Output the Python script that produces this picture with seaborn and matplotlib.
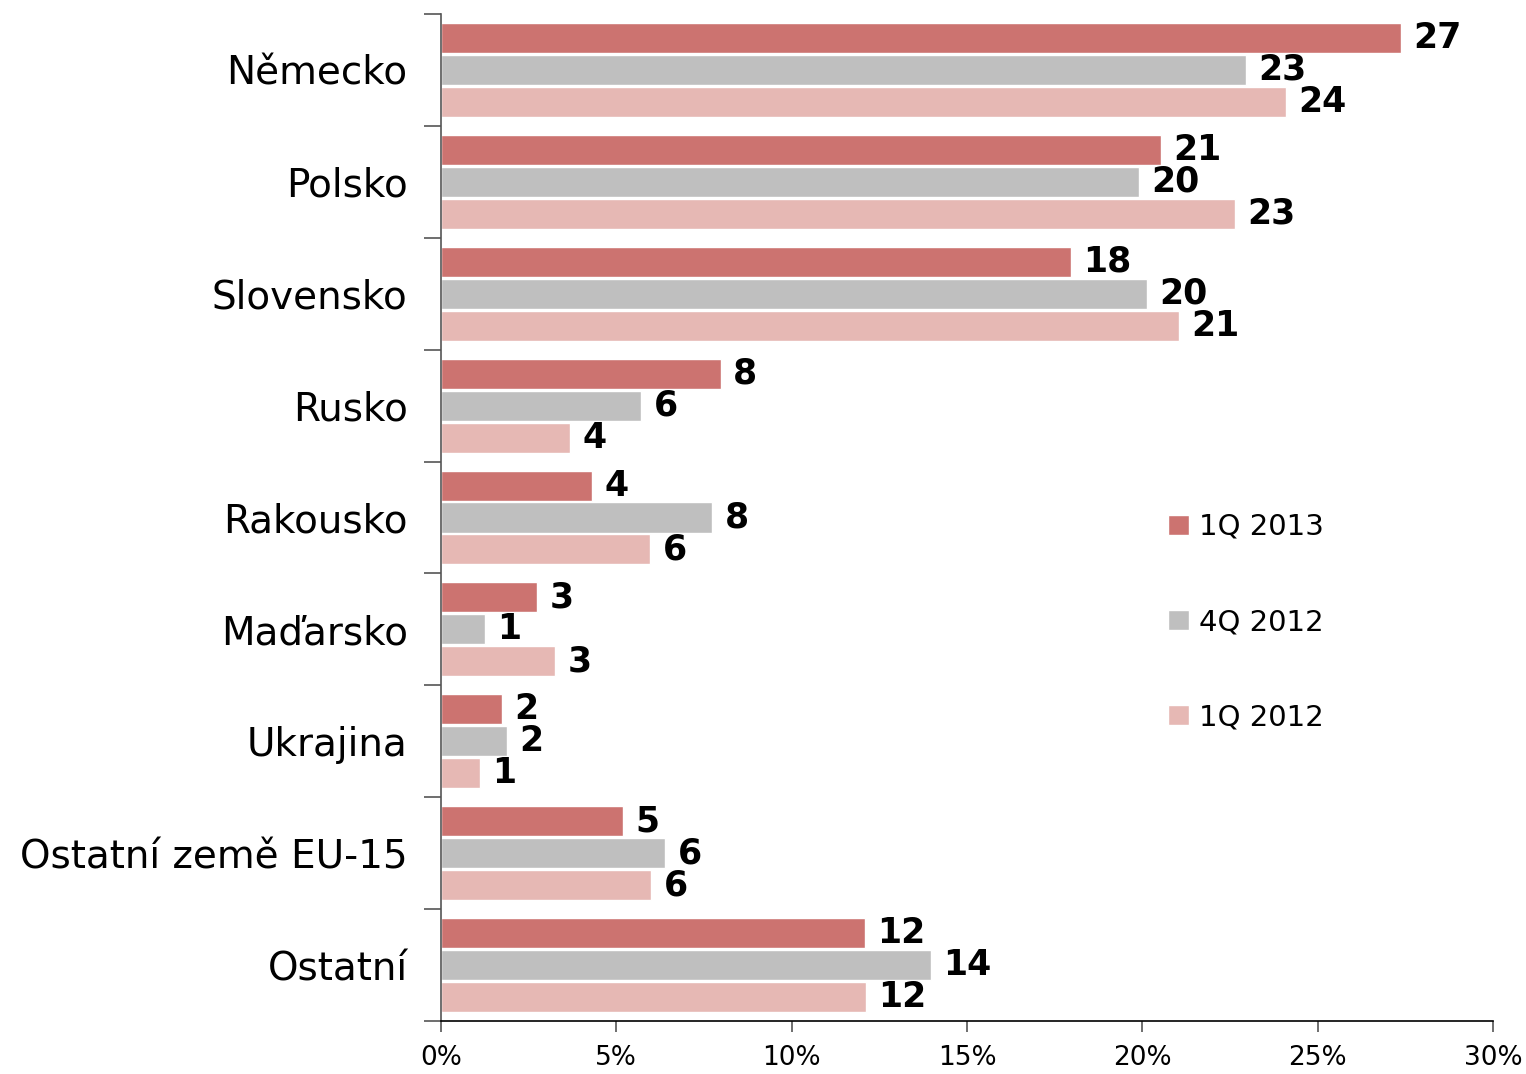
import matplotlib.pyplot as plt
import pandas as pd
import seaborn as sns
from matplotlib.patches import Patch
from matplotlib.ticker import FuncFormatter, FixedLocator

countries = [
    "Německo",
    "Polsko",
    "Slovensko",
    "Rusko",
    "Rakousko",
    "Maďarsko",
    "Ukrajina",
    "Ostatní země EU-15",
    "Ostatní",
]
series = ["1Q 2013", "4Q 2012", "1Q 2012"]
q1_2013 = [27.37, 20.53, 17.96, 7.98, 4.31, 2.74, 1.74, 5.19, 12.09]
q4_2012 = [22.95, 19.90, 20.13, 5.70, 7.73, 1.25, 1.88, 6.39, 13.97]
q1_2012 = [24.09, 22.64, 21.04, 3.68, 5.96, 3.25, 1.11, 5.99, 12.12]
COLORS = ["#CC7370", "#BFBFBF", "#E6B8B4"]

sns.set_theme(style="white")
plt.rcParams["font.family"] = ["DejaVu Sans"]
plt.rcParams["text.color"] = "black"
plt.rcParams["xtick.labelcolor"] = "black"
plt.rcParams["ytick.labelcolor"] = "black"

frame = pd.DataFrame(
    {
        "country": countries * 3,
        "period": [s for s in series for _ in countries],
        "share": q1_2013 + q4_2012 + q1_2012,
    }
)

fig = plt.figure(figsize=(15.26, 10.74), dpi=100)
ax = fig.add_axes([441 / 1526, 1 - 1021 / 1074, 1052 / 1526, 1007 / 1074])
sns.barplot(
    data=frame,
    x="share",
    y="country",
    hue="period",
    hue_order=series,
    order=countries,
    palette=COLORS,
    orient="h",
    width=0.857,
    gap=0.06,
    edgecolor="white",
    linewidth=1,
    saturation=1,
    legend=False,
    ax=ax,
)
for container in ax.containers:
    ax.bar_label(container, fmt="{:.0f}", padding=9, fontsize=25,
                 fontweight="bold", color="black")

ax.set_xlim(0, 30)
ax.set_ylim(len(countries) - 0.5, -0.5)
ax.set_xticks([0, 5, 10, 15, 20, 25, 30])
ax.xaxis.set_major_formatter(FuncFormatter(lambda v, _: f"{v:.0f}%"))
ax.tick_params(axis="x", labelsize=19, length=8, width=1.2, color="#555555",
               pad=9, direction="out", bottom=True)
ax.tick_params(axis="y", which="major", labelsize=28, length=0, pad=24)
ax.yaxis.set_minor_locator(FixedLocator([i - 0.5 for i in range(len(countries) + 1)]))
ax.tick_params(axis="y", which="minor", length=12, width=1.2, color="#555555",
               left=True, direction="out")
ax.set(xlabel="", ylabel="")

for side in ["top", "right"]:
    ax.spines[side].set_visible(False)
ax.spines["left"].set_color("#555555")
ax.spines["left"].set_linewidth(1.2)
ax.spines["bottom"].set_color("black")
ax.spines["bottom"].set_linewidth(1.2)

handles = [Patch(facecolor=c, edgecolor="white", label=s) for c, s in zip(COLORS, series)]
ax.legend(
    handles=handles,
    loc="center left",
    bbox_to_anchor=(1142 / 1526, 1 - 622 / 1074),
    bbox_transform=fig.transFigure,
    frameon=False,
    fontsize=21,
    handlelength=0.7,
    handleheight=0.7,
    handletextpad=0.35,
    labelspacing=2.3,
    labelcolor="black",
)

fig.savefig("out.png", dpi=100, facecolor="white")
